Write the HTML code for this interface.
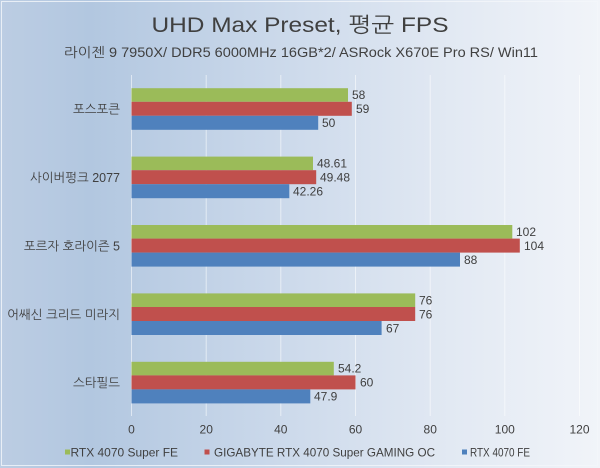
<!DOCTYPE html>
<html><head><meta charset="utf-8"><style>
html,body{margin:0;padding:0;}
body{width:600px;height:468px;overflow:hidden;}
svg{display:block;}
text{font-family:"Liberation Sans","NanumGothic","Noto Sans CJK KR",sans-serif;fill:#404040;}
</style></head><body>
<svg width="600" height="468" viewBox="0 0 600 468" xmlns="http://www.w3.org/2000/svg">
<defs>
<linearGradient id="bg" x1="0" y1="0" x2="1" y2="0">
<stop offset="0" stop-color="#bccde3"/>
<stop offset="0.15" stop-color="#b2c7e0"/>
<stop offset="0.45" stop-color="#cad8ea"/>
<stop offset="0.75" stop-color="#e2e9f3"/>
<stop offset="1" stop-color="#f1f4f9"/>
</linearGradient>
</defs>
<rect x="0" y="0" width="600" height="468" fill="url(#bg)"/>
<rect x="1.5" y="1.5" width="596" height="464" fill="none" stroke="#f4f6fa" stroke-opacity="0.8" stroke-width="1"/>

<!-- gridlines -->
<g stroke="#ffffff" stroke-opacity="0.55" stroke-width="1">
<line x1="131.5" y1="75" x2="131.5" y2="416"/>
<line x1="206.2" y1="75" x2="206.2" y2="416"/>
<line x1="280.8" y1="75" x2="280.8" y2="416"/>
<line x1="355.5" y1="75" x2="355.5" y2="416"/>
<line x1="430.2" y1="75" x2="430.2" y2="416"/>
<line x1="504.8" y1="75" x2="504.8" y2="416"/>
<line x1="579.5" y1="75" x2="579.5" y2="416"/>
</g>

<!-- title -->
<text x="300" y="32" font-size="21" text-anchor="middle" textLength="297" lengthAdjust="spacingAndGlyphs">UHD Max Preset, 평균 FPS</text>
<text x="301" y="57" font-size="13.5" text-anchor="middle" textLength="474" lengthAdjust="spacingAndGlyphs">라이젠 9 7950X/ DDR5 6000MHz 16GB*2/ ASRock X670E Pro RS/ Win11</text>

<!-- category labels -->
<g font-size="12.5" text-anchor="end">
<text x="120" y="113.5">포스포큰</text>
<text x="120" y="182">사이버펑크 2077</text>
<text x="120" y="250.5">포르자 호라이즌 5</text>
<text x="120" y="319">어쌔신 크리드 미라지</text>
<text x="120" y="387">스타필드</text>
</g>

<!-- bars group 1 -->
<rect x="131.5" y="88.2" width="216.5" height="13.6" fill="#9bbb59"/>
<rect x="131.5" y="101.8" width="220.3" height="14" fill="#c0504d"/>
<rect x="131.5" y="115.8" width="186.7" height="14" fill="#4f81bd"/>
<!-- group 2 -->
<rect x="131.5" y="156.6" width="181.5" height="13.6" fill="#9bbb59"/>
<rect x="131.5" y="170.2" width="184.7" height="14" fill="#c0504d"/>
<rect x="131.5" y="184.2" width="157.8" height="14" fill="#4f81bd"/>
<!-- group 3 -->
<rect x="131.5" y="225" width="380.8" height="13.6" fill="#9bbb59"/>
<rect x="131.5" y="238.6" width="388.3" height="14" fill="#c0504d"/>
<rect x="131.5" y="252.6" width="328.5" height="14" fill="#4f81bd"/>
<!-- group 4 -->
<rect x="131.5" y="293.4" width="283.7" height="13.6" fill="#9bbb59"/>
<rect x="131.5" y="307" width="283.7" height="14" fill="#c0504d"/>
<rect x="131.5" y="321" width="250.1" height="14" fill="#4f81bd"/>
<!-- group 5 -->
<rect x="131.5" y="361.8" width="202.3" height="13.6" fill="#9bbb59"/>
<rect x="131.5" y="375.4" width="224" height="14" fill="#c0504d"/>
<rect x="131.5" y="389.4" width="178.8" height="14" fill="#4f81bd"/>

<!-- value labels -->
<g font-size="12">
<text x="352" y="99">58</text>
<text x="356" y="113">59</text>
<text x="322" y="127">50</text>

<text x="317" y="167.5">48.61</text>
<text x="320" y="181.5">49.48</text>
<text x="293" y="195.5">42.26</text>

<text x="516" y="236">102</text>
<text x="524" y="250">104</text>
<text x="464" y="264">88</text>

<text x="419" y="304.5">76</text>
<text x="419" y="318.5">76</text>
<text x="386" y="332.5">67</text>

<text x="338" y="372.5">54.2</text>
<text x="360" y="386.5">60</text>
<text x="314" y="400.5">47.9</text>
</g>

<!-- x ticks -->
<g font-size="12" text-anchor="middle">
<text x="131.5" y="433.5">0</text>
<text x="206.2" y="433.5">20</text>
<text x="280.8" y="433.5">40</text>
<text x="355.5" y="433.5">60</text>
<text x="430.2" y="433.5">80</text>
<text x="504.8" y="433.5">100</text>
<text x="579.5" y="433.5">120</text>
</g>

<!-- legend -->
<rect x="65" y="449.5" width="5" height="5" fill="#9bbb59"/>
<text x="70.5" y="456.3" font-size="12" textLength="107.5" lengthAdjust="spacingAndGlyphs">RTX 4070 Super FE</text>
<rect x="204.5" y="449.5" width="5" height="5" fill="#c0504d"/>
<text x="214" y="456.3" font-size="12" textLength="221" lengthAdjust="spacingAndGlyphs">GIGABYTE RTX 4070 Super GAMING OC</text>
<rect x="462" y="449.5" width="5" height="5" fill="#4f81bd"/>
<text x="470" y="456.3" font-size="12" textLength="60" lengthAdjust="spacingAndGlyphs">RTX 4070 FE</text>
</svg>
</body></html>
